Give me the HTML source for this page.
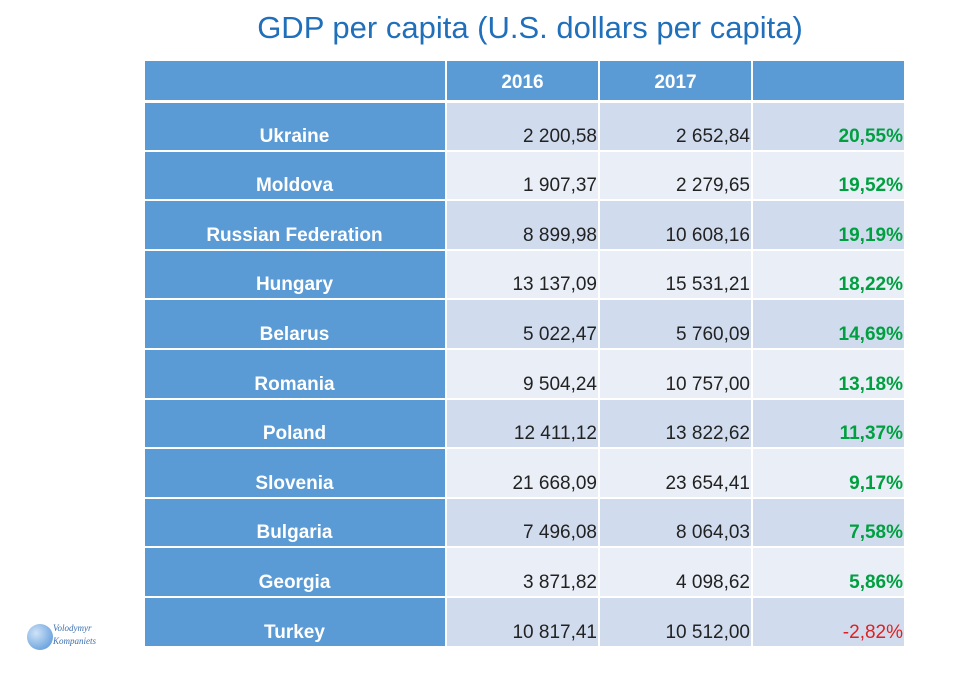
<!DOCTYPE html>
<html><head><meta charset="utf-8"><style>
body{margin:0;width:960px;height:680px;background:#fff;position:relative;overflow:hidden;font-family:"Liberation Sans",sans-serif}
h1{position:absolute;top:10px;left:0;width:1060px;margin:0;text-align:center;font-weight:normal;font-size:31px;color:#1f6fba}
table{position:absolute;left:145px;top:61px;border-collapse:separate;border-spacing:2px 0;margin-left:-2px}
td{padding:0 1px 0 0;height:49.6px;box-sizing:border-box;font-size:19px;color:#222;text-align:right;vertical-align:bottom;padding-bottom:2px;border-top:2px solid #fff}
td.n{background:#5b9bd5;color:#fff;font-weight:bold;text-align:center;width:300px}
tr.h td{background:#5b9bd5;color:#fff;font-weight:bold;text-align:center;height:39px;vertical-align:middle;padding:5px 0 0;border:none}
tr.a td.v{background:#d0dcee}
tr.b td.v{background:#e9eef7}
td.v{width:151px}
td.g{color:#00a040;font-weight:bold}
td.r{color:#e02020;font-weight:normal}
tr.f td{border-top:3px solid #fff}
.logo{position:absolute;left:27px;top:624px;width:26px;height:26px;border-radius:50%;background:radial-gradient(circle at 35% 35%,#cfe3f7,#4d8fd6)}
.lt{position:absolute;left:53px;top:622px;font-family:"Liberation Serif",serif;font-style:italic;font-size:9px;color:#3a6fb0;line-height:13px}
</style></head><body>
<h1>GDP per capita (U.S. dollars per capita)</h1>
<table>
<tr class="h"><td style="width:300px"></td><td>2016</td><td>2017</td><td></td></tr>
<tr class="a f"><td class="n">Ukraine</td><td class="v">2 200,58</td><td class="v">2 652,84</td><td class="v g">20,55%</td></tr>
<tr class="b"><td class="n">Moldova</td><td class="v">1 907,37</td><td class="v">2 279,65</td><td class="v g">19,52%</td></tr>
<tr class="a"><td class="n">Russian Federation</td><td class="v">8 899,98</td><td class="v">10 608,16</td><td class="v g">19,19%</td></tr>
<tr class="b"><td class="n">Hungary</td><td class="v">13 137,09</td><td class="v">15 531,21</td><td class="v g">18,22%</td></tr>
<tr class="a"><td class="n">Belarus</td><td class="v">5 022,47</td><td class="v">5 760,09</td><td class="v g">14,69%</td></tr>
<tr class="b"><td class="n">Romania</td><td class="v">9 504,24</td><td class="v">10 757,00</td><td class="v g">13,18%</td></tr>
<tr class="a"><td class="n">Poland</td><td class="v">12 411,12</td><td class="v">13 822,62</td><td class="v g">11,37%</td></tr>
<tr class="b"><td class="n">Slovenia</td><td class="v">21 668,09</td><td class="v">23 654,41</td><td class="v g">9,17%</td></tr>
<tr class="a"><td class="n">Bulgaria</td><td class="v">7 496,08</td><td class="v">8 064,03</td><td class="v g">7,58%</td></tr>
<tr class="b"><td class="n">Georgia</td><td class="v">3 871,82</td><td class="v">4 098,62</td><td class="v g">5,86%</td></tr>
<tr class="a"><td class="n">Turkey</td><td class="v">10 817,41</td><td class="v">10 512,00</td><td class="v g r">-2,82%</td></tr>
</table>
<div class="logo"></div>
<div class="lt">Volodymyr<br>Kompaniets</div>
</body></html>
